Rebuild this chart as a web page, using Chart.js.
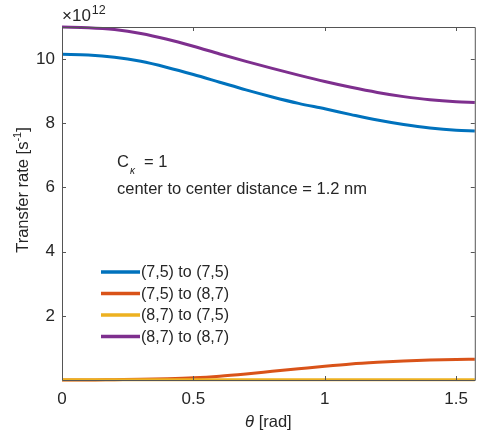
<!DOCTYPE html>
<html>
<head>
<meta charset="utf-8">
<script src="https://cdn.jsdelivr.net/npm/chart.js@4.4.0/dist/chart.umd.min.js"></script>
<style>
  html, body { margin: 0; padding: 0; background: #fff; }
  #wrap { width: 477px; height: 436px; }
</style>
</head>
<body>
<div id="wrap"><canvas id="rateChart" width="477" height="436"></canvas></div>
<script>
// angle theta in rad
const theta = [0, 0.1, 0.2, 0.3, 0.4, 0.5, 0.6, 0.7, 0.8, 0.9, 1.0, 1.1, 1.2, 1.3, 1.4, 1.5, 1.5708];

// transfer rates, units of 1e12 s^-1
const rate75to75 = [10.15, 10.13, 10.06, 9.93, 9.74, 9.52, 9.28, 9.04, 8.82, 8.62, 8.45, 8.27, 8.10, 7.96, 7.85, 7.78, 7.76];
const rate75to87 = [0.0, 0.0, 0.01, 0.02, 0.04, 0.07, 0.12, 0.19, 0.27, 0.35, 0.43, 0.50, 0.55, 0.59, 0.62, 0.64, 0.65];
const rate87to75 = [0.01, 0.01, 0.01, 0.01, 0.01, 0.01, 0.01, 0.01, 0.01, 0.01, 0.01, 0.01, 0.01, 0.01, 0.01, 0.01, 0.01];
const rate87to87 = [11.0, 10.98, 10.92, 10.80, 10.62, 10.40, 10.16, 9.93, 9.71, 9.50, 9.30, 9.12, 8.96, 8.83, 8.73, 8.67, 8.65];

const seriesNames = ["(7,5) to (7,5)", "(7,5) to (8,7)", "(8,7) to (7,5)", "(8,7) to (8,7)"];
const xTicks = [0, 0.5, 1, 1.5];
const yTicks = [2, 4, 6, 8, 10];

const FONT = "Liberation Sans, Arial, Helvetica, sans-serif";
const TEXT = "#262626";
const AXIS = "#555555";

const pts = (ys) => theta.map((t, i) => ({ x: t, y: ys[i] }));

// inward ticks, box, legend, labels (matlab look)
const matlabLook = {
  id: "matlabLook",
  afterDraw(chart) {
    const ctx = chart.ctx;
    const a = chart.chartArea;
    const xs = chart.scales.x, ys = chart.scales.y;
    ctx.save();
    ctx.strokeStyle = AXIS;
    ctx.lineWidth = 1;
    ctx.beginPath();
    ctx.rect(a.left + 0.5, a.top + 0.5, a.right - a.left, a.bottom - a.top);
    xTicks.forEach((v) => {
      const px = Math.round(xs.getPixelForValue(v)) + 0.5;
      ctx.moveTo(px, a.bottom); ctx.lineTo(px, a.bottom - 4);
      ctx.moveTo(px, a.top); ctx.lineTo(px, a.top + 4);
    });
    yTicks.forEach((v) => {
      const py = Math.round(ys.getPixelForValue(v)) + 0.5;
      ctx.moveTo(a.left, py); ctx.lineTo(a.left + 4, py);
      ctx.moveTo(a.right, py); ctx.lineTo(a.right - 4, py);
    });
    ctx.stroke();

    ctx.fillStyle = TEXT;
    // exponent
    ctx.textBaseline = "alphabetic";
    ctx.textAlign = "left";
    ctx.font = "17px " + FONT;
    ctx.fillText("\u00d710", 62, 21);
    const we = ctx.measureText("\u00d710").width;
    ctx.font = "12.5px " + FONT;
    ctx.fillText("12", 62 + we + 1, 14);

    // y title
    ctx.save();
    ctx.translate(28, 190);
    ctx.rotate(-Math.PI / 2);
    ctx.font = "16.5px " + FONT;
    const t1 = "Transfer rate [s";
    const w1 = ctx.measureText(t1).width;
    ctx.font = "11px " + FONT;
    const w2 = ctx.measureText("-1").width;
    ctx.font = "16.5px " + FONT;
    const w3 = ctx.measureText("]").width;
    let x0 = -(w1 + w2 + w3) / 2;
    ctx.fillText(t1, x0, 0);
    ctx.font = "11px " + FONT;
    ctx.fillText("-1", x0 + w1, -7);
    ctx.font = "16.5px " + FONT;
    ctx.fillText("]", x0 + w1 + w2, 0);
    ctx.restore();

    // x title
    ctx.font = "italic 16.5px " + FONT;
    const wt = ctx.measureText("\u03b8").width;
    ctx.font = "16.5px " + FONT;
    const wr = ctx.measureText(" [rad]").width;
    let xt = (a.left + a.right) / 2 - (wt + wr) / 2;
    ctx.font = "italic 16.5px " + FONT;
    ctx.fillText("\u03b8", xt, 427);
    ctx.font = "16.5px " + FONT;
    ctx.fillText(" [rad]", xt + wt, 427);

    // annotation
    ctx.font = "16.5px " + FONT;
    ctx.fillText("C", 117, 167);
    ctx.font = "italic 10px " + FONT;
    ctx.fillText("\u03ba", 130, 174);
    ctx.font = "16.5px " + FONT;
    ctx.fillText("= 1", 144, 167);
    ctx.fillText("center to center distance = 1.2 nm", 117, 194);

    // legend
    const rows = [272, 293.5, 315, 336.5];
    chart.data.datasets.forEach((ds, i) => {
      ctx.strokeStyle = ds.borderColor;
      ctx.lineWidth = 3.5;
      ctx.beginPath();
      ctx.moveTo(101, rows[i]); ctx.lineTo(140, rows[i]);
      ctx.stroke();
      ctx.textBaseline = "middle";
      ctx.font = "16px " + FONT;
      ctx.fillText(ds.label, 141, rows[i] + 1);
    });
    ctx.restore();
  }
};

const ctx = document.getElementById("rateChart").getContext("2d");
const rateChart = new Chart(ctx, {
  type: "scatter",
  data: {
    datasets: [
      { label: seriesNames[0], data: pts(rate75to75), borderColor: "#0072BD", order: 4 },
      { label: seriesNames[1], data: pts(rate75to87), borderColor: "#D95319", order: 3 },
      { label: seriesNames[2], data: pts(rate87to75), borderColor: "#EDB120", order: 2 },
      { label: seriesNames[3], data: pts(rate87to87), borderColor: "#7E2F8E", order: 1 },
    ].map((d) => Object.assign(d, {
      showLine: true,
      borderWidth: 3,
      pointRadius: 0,
      cubicInterpolationMode: "monotone",
      clip: false,
    })),
  },
  options: {
    responsive: false,
    animation: false,
    layout: { padding: { top: 27, right: 0, left: 0, bottom: 0 } },
    plugins: { legend: { display: false }, tooltip: { enabled: false } },
    scales: {
      x: {
        type: "linear",
        min: 0,
        max: Math.PI / 2,
        afterBuildTicks: (s) => { s.ticks = xTicks.map((v) => ({ value: v })); },
        afterFit: (s) => { s.height = 56; },
        ticks: {
          color: TEXT,
          font: { family: FONT, size: 17 },
          padding: 9,
          maxRotation: 0,
          callback: (v) => String(v),
        },
        grid: { display: false, drawTicks: false },
        border: { display: false },
      },
      y: {
        type: "linear",
        min: 0,
        max: 11,
        afterBuildTicks: (s) => { s.ticks = yTicks.map((v) => ({ value: v })); },
        afterFit: (s) => { s.width = 62; },
        ticks: {
          color: TEXT,
          font: { family: FONT, size: 17 },
          padding: 7,
          callback: (v) => String(v),
        },
        grid: { display: false, drawTicks: false },
        border: { display: false },
      },
    },
  },
  plugins: [matlabLook],
});
</script>
</body>
</html>
